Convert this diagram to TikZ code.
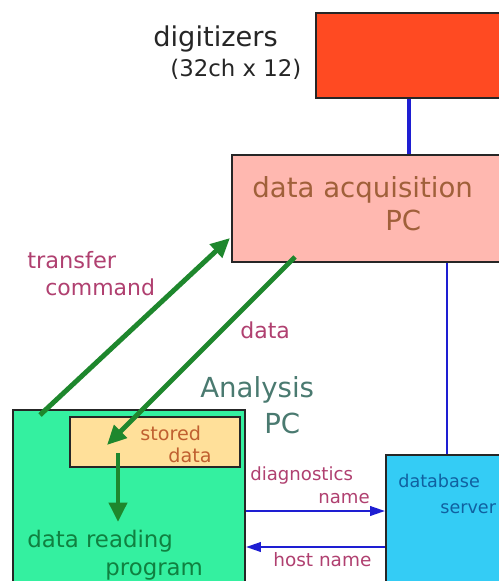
\documentclass[tikz,border=0pt]{standalone}
\usepackage{fontspec}
\setmainfont{DejaVu Sans}
\usetikzlibrary{arrows.meta}
\definecolor{digred}{RGB}{255,74,34}
\definecolor{daqpink}{RGB}{255,184,176}
\definecolor{anagreen}{RGB}{52,240,160}
\definecolor{storeyel}{RGB}{255,224,154}
\definecolor{dbblue}{RGB}{52,204,245}
\definecolor{arrgreen}{RGB}{30,135,45}
\definecolor{lnblue}{RGB}{30,30,210}
\definecolor{txtmaroon}{RGB}{176,64,112}
\definecolor{txtbrown}{RGB}{160,96,58}
\definecolor{txtorange}{RGB}{192,96,48}
\definecolor{txtteal}{RGB}{74,122,112}
\definecolor{txtgreen}{RGB}{16,128,64}
\definecolor{txtdb}{RGB}{16,96,160}
\tikzset{
	box/.style={draw=black!85,line width=1.2pt,rectangle,inner sep=0pt},
	lbl/.style={anchor=base west,inner sep=0pt},
	greenarrow/.style={arrgreen,line width=2.8pt,-{Triangle[length=11pt,width=10pt]}},
	bluearrow/.style={lnblue,line width=1.1pt,-{Triangle[length=8.5pt,width=5.5pt]}}
}
\begin{document}
\begin{tikzpicture}[x=0.2mm,y=-0.2mm]
	\clip (0,0) rectangle (499,581);
	\fill[white] (0,0) rectangle (499,581);
		% boxes
		\node[box,fill=digred,minimum width=37.2mm,minimum height=17mm] (dig) at (409,55.5) {};
		\node[box,fill=daqpink,minimum width=58mm,minimum height=21.4mm] (daq) at (377,208.5) {};
		\node[box,fill=anagreen,minimum width=46.4mm,minimum height=38mm] (ana) at (129,505) {};
		\node[box,fill=storeyel,minimum width=34mm,minimum height=10mm] (store) at (155,442) {};
		\node[box,fill=dbblue,minimum width=24.4mm,minimum height=29mm] (db) at (447,527.5) {};
		
		% links
		\draw[lnblue,line width=2.8pt] (dig.south) -- (dig.south |- daq.north);
		\draw[lnblue,line width=1.1pt] (db.north) -- (db.north |- daq.south);
		\draw[bluearrow] (ana.east |- 0,511) -- (db.west |- 0,511);
		\draw[bluearrow] (db.west |- 0,547) -- (ana.east |- 0,547);
		
		\coordinate (cmdtail) at (40,415);
		\coordinate (cmdtip) at (230,238);
		\coordinate (datatail) at (295,257);
		\coordinate (datatip) at (107,445);
		\coordinate (readtail) at (118,453);
		\coordinate (readtip) at (118,522);
		\draw[greenarrow] (cmdtail) -- (cmdtip);
		\draw[greenarrow] (datatail) -- (datatip);
		\draw[greenarrow] (readtail) -- (readtip);
		
		% texts
		\node[lbl,black!85,font=\fontsize{15.5}{18}\selectfont] (digA) at (153,47) {digitizers};
		\node[lbl,black!85,font=\fontsize{13}{15}\selectfont] (digB) at (170,77) {(32ch x 12)};
		\node[lbl,txtbrown,font=\fontsize{15.7}{18}\selectfont] (daqA) at (252,197) {data acquisition};
		\node[lbl,txtbrown,font=\fontsize{15.7}{18}\selectfont] (daqB) at (385,230) {PC};
		\node[lbl,txtmaroon,font=\fontsize{12.8}{15}\selectfont] (cmdA) at (27,268) {transfer};
		\node[lbl,txtmaroon,font=\fontsize{12.5}{15}\selectfont] (cmdB) at (45,295) {command};
		\node[lbl,txtmaroon,font=\fontsize{12.5}{15}\selectfont] (datalbl) at (240,338) {data};
		\node[lbl,txtteal,font=\fontsize{15.7}{18}\selectfont] (anaA) at (200,397) {Analysis};
		\node[lbl,txtteal,font=\fontsize{15.7}{18}\selectfont] (anaB) at (264,433) {PC};
		\node[lbl,txtorange,font=\fontsize{10.9}{13}\selectfont] (storeA) at (140,440) {stored};
		\node[lbl,txtorange,font=\fontsize{10.9}{13}\selectfont] (storeB) at (168,462) {data};
		\node[lbl,txtgreen,font=\fontsize{13}{15}\selectfont] (readA) at (27,547) {data reading};
		\node[lbl,txtgreen,font=\fontsize{13}{15}\selectfont] (readB) at (105,575) {program};
		\node[lbl,txtmaroon,font=\fontsize{10.3}{12}\selectfont] (diagA) at (250,480) {diagnostics};
		\node[lbl,txtmaroon,font=\fontsize{10.3}{12}\selectfont] (diagB) at (318,503) {name};
		\node[lbl,txtmaroon,font=\fontsize{10.5}{12}\selectfont] (host) at (273,566) {host name};
		\node[lbl,txtdb,font=\fontsize{10}{12}\selectfont] (dbA) at (398,487) {database};
		\node[lbl,txtdb,font=\fontsize{10}{12}\selectfont] (dbB) at (440,513) {server};
	\end{tikzpicture}
\end{document}
